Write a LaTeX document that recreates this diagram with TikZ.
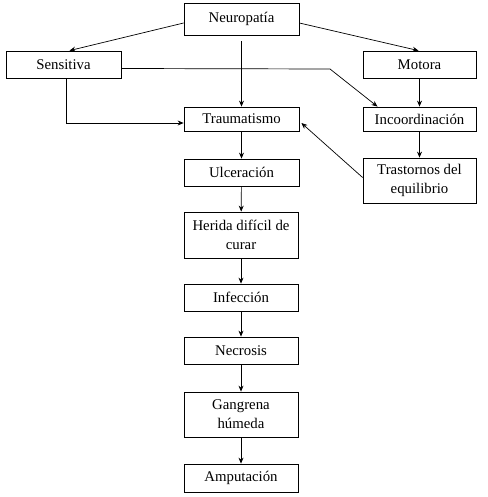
\documentclass[tikz,border=0pt]{standalone}
\usepackage{fontspec}
\setmainfont{Liberation Serif}
\newfontfamily\tnr{Liberation Serif}
\usepackage{tikz}
\usetikzlibrary{arrows.meta}

\tikzset{
  caja/.style={draw,line width=0.8pt,inner sep=0pt,align=center,font=\tnr\fontsize{14.8}{19}\selectfont},
  flecha/.style={->,>={Stealth[length=6pt,width=5pt]},line width=0.7pt}
}

\begin{document}
\begin{tikzpicture}[x=1pt,y=-1pt]
  \useasboundingbox (0,0) rectangle (487,497);

  % fila de arriba
  \node[caja,minimum width=115,minimum height=32] (neuro) at (241.5,19) {Neuropatía};
  \node[caja,minimum width=115,minimum height=27] (sens) at (63.5,64.5) {Sensitiva};
  \node[caja,minimum width=113,minimum height=27] (mot) at (419.5,64.5) {Motora};

  % columna derecha
  \node[caja,minimum width=113,minimum height=24] (inco) at (419.5,119) {Incoordinación};
  \node[caja,minimum width=113,minimum height=45] (tras) at (419.5,180.5) {Trastornos del\\equilibrio};

  % columna central
  \node[caja,minimum width=115,minimum height=24] (trau) at (241.5,119) {Traumatismo};
  \node[caja,minimum width=115,minimum height=27] (ulce) at (241.5,172.5) {Ulceración};
  \node[caja,minimum width=114,minimum height=46] (heri) at (241,235) {Herida difícil de\\curar};
  \node[caja,minimum width=114,minimum height=27] (infe) at (241,297.5) {Infección};
  \node[caja,minimum width=114,minimum height=27] (necr) at (241,350.5) {Necrosis};
  \node[caja,minimum width=114,minimum height=45] (gang) at (241,414.5) {Gangrena\\húmeda};
  \node[caja,minimum width=114,minimum height=28] (ampu) at (241,478) {Amputación};

  \coordinate (codo) at (330,69);

  \draw[flecha] ([yshift=-4]neuro.west) -- ([xshift=6]sens.north);
  \draw[flecha] ([yshift=-4]neuro.east) -- ([xshift=-1]mot.north);
  \draw[flecha] ([yshift=-6]neuro.south) -- (trau.north);
  \draw[flecha] ([xshift=3]sens.south) |- ([yshift=-4]trau.west);
  \draw[flecha] ([yshift=-4]sens.east) -- (codo) -- ([xshift=-42]inco.north);
  \draw[flecha] (mot) -- (inco);
  \draw[flecha] (inco) -- (tras);
  \draw[flecha] ([yshift=3]tras.west) -- ([xshift=2,yshift=-4]trau.east);

  \foreach \a/\b in {trau/ulce,ulce/heri,heri/infe,infe/necr,necr/gang,gang/ampu}
    \draw[flecha] (\a) -- (\b);
\end{tikzpicture}
\end{document}
